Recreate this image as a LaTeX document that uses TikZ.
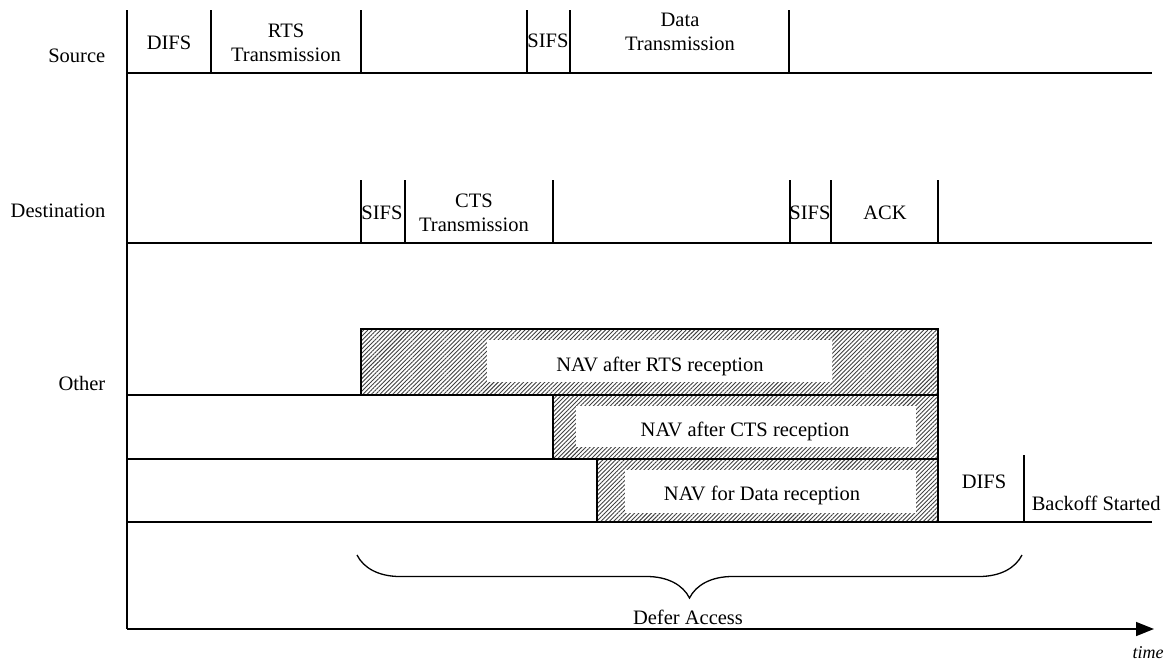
\documentclass[tikz,border=0pt]{standalone}
\usepackage{fontspec}
\setmainfont{Liberation Serif}
\usetikzlibrary{patterns.meta,decorations.pathreplacing,arrows.meta}
\begin{document}
\begin{tikzpicture}[x=1pt,y=-1pt,line width=1.5pt,
  lbl/.style={font=\fontsize{20.5}{24}\selectfont,inner sep=0pt,align=center},
  navbox/.style={draw,line width=1.2pt,pattern={Lines[angle=45,distance=3pt,line width=0.9pt]},pattern color=black!75},
  navtext/.style={fill=white,inner sep=0pt,font=\fontsize{20.5}{24}\selectfont}]
\useasboundingbox (0,0) rectangle (1171,664);
% axes
\coordinate (top) at (127,10);
\coordinate (origin) at (127,629);
\coordinate (tend) at (1154,629);
\draw (top) -- (origin);
\draw[-{Triangle[length=18pt,width=14pt]}] (origin) -- (tend);
\node[lbl,font=\fontsize{18}{20}\selectfont\itshape] (time) at (1148,653) {time};
% row labels
\node[lbl,anchor=east] (src) at (106,56) {Source};
\node[lbl,anchor=east] (dst) at (106,211) {Destination};
\node[lbl,anchor=east] (oth) at (106,383) {Other};
% source row
\draw (127,73) -- (1152,73);
\foreach \x in {211,361,527,570,789} \draw (\x,10) -- (\x,73);
\node[lbl] (difs1) at (169,43) {DIFS};
\node[lbl] (rts) at (286,43) {RTS\\Transmission};
\node[lbl] (sifs1) at (548,41) {SIFS};
\node[lbl] (data) at (680,32) {Data\\Transmission};
% destination row
\draw (127,243) -- (1152,243);
\foreach \x in {361,405,553,790,831,938} \draw (\x,180) -- (\x,243);
\node[lbl] (sifs2) at (382,213) {SIFS};
\node[lbl] (cts) at (474,213) {CTS\\Transmission};
\node[lbl] (sifs3) at (810,213) {SIFS};
\node[lbl] (ack) at (885,213) {ACK};
% other rows
\draw (127,395) -- (938,395);
\draw (127,459) -- (938,459);
\draw (127,522) -- (1152,522);
\draw[navbox] (361,329) rectangle (938,395);
\fill[white] (487,340) rectangle (832,382);
\node[navtext] (nav1) at (660,366) {NAV after RTS reception};
\draw[navbox] (553,395) rectangle (938,459);
\fill[white] (576,406) rectangle (916,447);
\node[navtext] (nav2) at (745,431) {NAV after CTS reception};
\draw[navbox] (597,459) rectangle (938,522);
\fill[white] (625,470) rectangle (916,513);
\node[navtext] (nav3) at (762,495) {NAV for Data reception};
\node[lbl] (difs2) at (984,482) {DIFS};
\draw (1024,455) -- (1024,522);
\node[lbl,anchor=west] (boff) at (1031,503) {Backoff Started};
% brace
\coordinate (bl) at (357,555);
\coordinate (br) at (1022,555);
\draw[line width=1.3pt,decorate,decoration={brace,mirror,amplitude=43pt,aspect=0.5}] (bl) -- (br);
\node[lbl] (defer) at (688,617) {Defer Access};
\end{tikzpicture}
\end{document}
